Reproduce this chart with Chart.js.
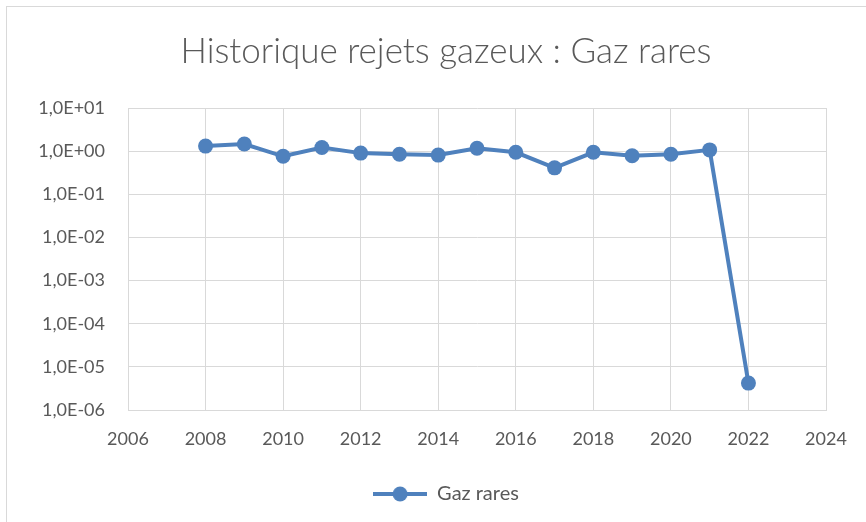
<!DOCTYPE html>
<html>
<head>
<meta charset="utf-8">
<script src="https://cdn.jsdelivr.net/npm/chart.js@4.4.1/dist/chart.umd.min.js"></script>
<style>
  html, body { margin: 0; padding: 0; background: #fff; }
  #wrap { width: 866px; height: 522px; }
</style>
</head>
<body>
<div id="wrap"><canvas id="grafica"></canvas></div>
<script>
// Gaz rares - rejets gazeux
const years = [2008, 2009, 2010, 2011, 2012, 2013, 2014, 2015, 2016, 2017, 2018, 2019, 2020, 2021, 2022];
const values = [1.31, 1.46, 0.76, 1.21, 0.90, 0.85, 0.81, 1.17, 0.94, 0.41, 0.94, 0.78, 0.85, 1.07, 4.2e-6];
const yTicks = [1e-6, 1e-5, 1e-4, 1e-3, 1e-2, 1e-1, 1e0, 1e1];

const blue = '#4f81bd';
const grey = '#595959';
const gridColor = '#d9d9d9';
const fontFamily = 'Lato, "Noto Sans", sans-serif';

// format 1,0E+01 comme Excel
function fmtExp(v) {
    const e = Math.round(Math.log10(v));
    const sign = e < 0 ? '-' : '+';
    const abs = Math.abs(e);
    return '1,0E' + sign + (abs < 10 ? '0' : '') + abs;
}

// icone de legende : ligne + rond
const icon = document.createElement('canvas');
icon.width = 54;
icon.height = 18;
const ic = icon.getContext('2d');
ic.strokeStyle = blue;
ic.lineWidth = 4;
ic.beginPath();
ic.moveTo(0, 9);
ic.lineTo(54, 9);
ic.stroke();
ic.fillStyle = blue;
ic.beginPath();
ic.arc(27, 9, 7.5, 0, Math.PI * 2);
ic.fill();

const frame = {
    id: 'frame',
    beforeDraw(chart) {
        const ctx = chart.ctx;
        ctx.save();
        ctx.fillStyle = '#fff';
        ctx.fillRect(0, 0, chart.width, chart.height);
        ctx.strokeStyle = gridColor;
        ctx.lineWidth = 1;
        ctx.strokeRect(6.5, 6.5, chart.width + 20, chart.height + 20);
        ctx.restore();
    }
};

const data = {
    datasets: [{
        label: 'Gaz rares',
        data: years.map((y, i) => ({ x: y, y: values[i] })),
        borderColor: blue,
        backgroundColor: blue,
        borderWidth: 4,
        pointRadius: 7.5,
        pointHoverRadius: 7.5,
        pointBorderWidth: 0,
        pointStyle: 'circle',
        tension: 0
    }]
};

const config = {
    type: 'line',
    data: data,
    plugins: [frame],
    options: {
        responsive: false,
        animation: false,
        devicePixelRatio: 1,
        layout: { padding: { left: 26, right: 0, top: 31, bottom: 8 } },
        plugins: {
            title: {
                display: true,
                text: 'Historique rejets gazeux : Gaz rares',
                color: grey,
                font: { family: fontFamily, size: 35, weight: '300' },
                padding: { top: 0, bottom: 35 }
            },
            legend: {
                position: 'bottom',
                labels: {
                    color: grey,
                    font: { family: fontFamily, size: 20 },
                    usePointStyle: true,
                    pointStyle: icon,
                    pointStyleWidth: 54,
                    boxHeight: 18,
                    padding: 10
                }
            },
            tooltip: { enabled: false }
        },
        scales: {
            x: {
                type: 'linear',
                min: 2006,
                max: 2024,
                ticks: {
                    stepSize: 2,
                    color: grey,
                    font: { family: fontFamily, size: 18 },
                    padding: 18,
                    callback: v => String(v)
                },
                grid: { color: gridColor, drawTicks: false },
                border: { color: gridColor },
                afterFit(scale) { scale.height = 64; }
            },
            y: {
                type: 'logarithmic',
                min: 1e-6,
                max: 10,
                afterBuildTicks(scale) {
                    scale.ticks = yTicks.map(v => ({ value: v }));
                },
                ticks: {
                    color: grey,
                    font: { family: fontFamily, size: 18 },
                    padding: 23,
                    callback: v => fmtExp(v)
                },
                grid: { color: gridColor, drawTicks: false },
                border: { color: gridColor },
                afterFit(scale) { scale.width = 102; }
            },
            // marge droite vide
            right: {
                type: 'linear',
                position: 'right',
                ticks: { display: false },
                grid: { display: false, drawTicks: false },
                border: { display: false },
                afterFit(scale) { scale.width = 40; }
            }
        }
    }
};

const canvas = document.querySelector('#grafica');
canvas.width = 866;
canvas.height = 522;
new Chart(canvas, config);
</script>
</body>
</html>
